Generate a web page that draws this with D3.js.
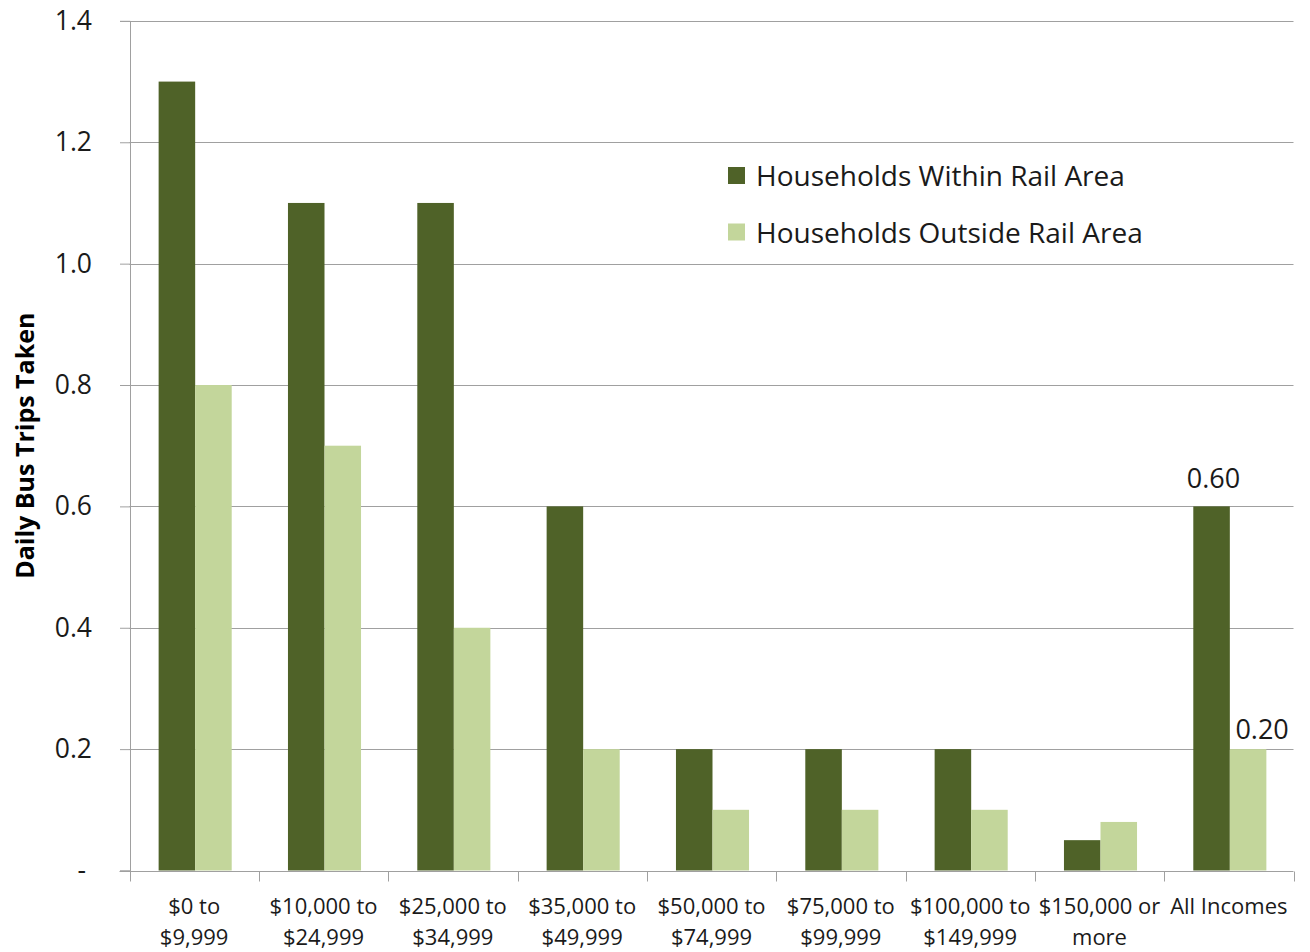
<!DOCTYPE html>
<html>
<head>
<meta charset="utf-8">
<script src="https://cdn.jsdelivr.net/npm/d3@7/dist/d3.min.js"></script>
<style>
  html, body { margin: 0; padding: 0; background: #fff; }
  svg { display: block; font-family: "Open Sans", Lato, sans-serif; }
</style>
</head>
<body>
<svg id="chart" width="1310" height="952"></svg>
<script>
// Income brackets (two-line labels)
const categories = [
  ["$0 to", "$9,999"],
  ["$10,000 to", "$24,999"],
  ["$25,000 to", "$34,999"],
  ["$35,000 to", "$49,999"],
  ["$50,000 to", "$74,999"],
  ["$75,000 to", "$99,999"],
  ["$100,000 to", "$149,999"],
  ["$150,000 or", "more"],
  ["All Incomes", ""]
];
const seriesNames = ["Households Within Rail Area", "Households Outside Rail Area"];
const withinRail  = [1.3, 1.1, 1.1, 0.6, 0.2, 0.2, 0.2, 0.05, 0.6];
const outsideRail = [0.8, 0.7, 0.4, 0.2, 0.1, 0.1, 0.1, 0.08, 0.2];
const yTicks = [0, 0.2, 0.4, 0.6, 0.8, 1.0, 1.2, 1.4];
const colors = ["#4f6228", "#c3d69b"];
const yTitle = "Daily Bus Trips Taken";

const svg = d3.select("#chart");
const plotLeft = 129.5, plotRight = 1293.5, plotTop = 20.9, plotBottom = 870.5;

const keys = categories.map(c => c.join(" "));
const x0 = d3.scaleBand().domain(keys).range([plotLeft, plotRight]).padding(0);
const bw = x0.bandwidth();
const groupW = bw * 0.565;
const x1 = d3.scaleBand().domain(seriesNames).range([0, groupW]).padding(0);
const groupOffset = (bw - groupW) / 2 + 1;
const y = d3.scaleLinear().domain([0, 1.4]).range([plotBottom, plotTop]);

const gridColor = "#a0a0a0";
const textColor = "#1a1a1a";

// Horizontal gridlines
svg.append("g")
  .selectAll("line")
  .data(yTicks.filter(d => d > 0))
  .join("line")
  .attr("x1", plotLeft).attr("x2", plotRight)
  .attr("y1", d => Math.round(y(d)) + 0.5).attr("y2", d => Math.round(y(d)) + 0.5)
  .attr("stroke", gridColor).attr("stroke-width", 1);

// Bars
const rows = keys.map((k, i) => ({ key: k, values: [withinRail[i], outsideRail[i]] }));
const groups = svg.append("g").selectAll("g")
  .data(rows).join("g")
  .attr("transform", d => `translate(${x0(d.key) + groupOffset},0)`);
groups.selectAll("rect")
  .data(d => d.values.map((v, j) => ({ name: seriesNames[j], v, j })))
  .join("rect")
  .attr("x", d => x1(d.name))
  .attr("width", x1.bandwidth())
  .attr("y", d => y(d.v))
  .attr("height", d => y(0) - y(d.v))
  .attr("fill", d => colors[d.j]);

// Y axis
const yAxis = d3.axisLeft(y)
  .tickValues(yTicks)
  .tickSize(10)
  .tickPadding(28)
  .tickFormat(d => d === 0 ? "-" : d3.format(".1f")(d));
const gy = svg.append("g")
  .attr("transform", `translate(${plotLeft + 0.5},0)`)
  .call(yAxis);
gy.select(".domain").attr("stroke", gridColor);
gy.selectAll(".tick line").attr("stroke", gridColor);
gy.selectAll(".tick text")
  .attr("font-size", 26.5).attr("fill", textColor)
  .attr("font-family", "'Open Sans', sans-serif")
  .attr("dx", d => d === 0 ? -6 : 0);

// X axis with ticks at category boundaries
const gx = svg.append("g").attr("transform", `translate(0,${Math.round(plotBottom) + 0.5})`);
gx.append("line")
  .attr("x1", plotLeft - 10).attr("x2", plotRight)
  .attr("stroke", gridColor);
const boundaries = keys.map(k => x0(k)).concat([plotRight]);
gx.selectAll("line.bt")
  .data(boundaries).join("line").attr("class", "bt")
  .attr("x1", d => Math.round(d) + 0.5).attr("x2", d => Math.round(d) + 0.5)
  .attr("y1", 0).attr("y2", 10)
  .attr("stroke", gridColor);
const labels = gx.selectAll("text.cat")
  .data(categories).join("text").attr("class", "cat")
  .attr("x", (d, i) => x0(keys[i]) + bw / 2)
  .attr("text-anchor", "middle")
  .attr("font-size", 22).attr("fill", textColor);
labels.append("tspan").attr("x", (d, i) => x0(keys[i]) + bw / 2).attr("y", 42).text(d => d[0]);
labels.append("tspan").attr("x", (d, i) => x0(keys[i]) + bw / 2).attr("y", 73).text(d => d[1]);

// Y axis title
svg.append("text")
  .attr("transform", `translate(34,${(plotTop + plotBottom) / 2}) rotate(-90)`)
  .attr("text-anchor", "middle")
  .attr("font-size", 25).attr("font-weight", "bold").attr("fill", "#000")
  .text(yTitle);

// Value labels on the "All Incomes" group
const last = keys.length - 1;
const lastX = x0(keys[last]) + groupOffset;
svg.append("text")
  .attr("x", lastX + x1(seriesNames[0]) + x1.bandwidth() / 2 + 2)
  .attr("y", y(withinRail[last]) - 18)
  .attr("text-anchor", "middle").attr("font-size", 27).attr("fill", textColor)
  .text(d3.format(".2f")(withinRail[last]));
svg.append("text")
  .attr("x", lastX + x1(seriesNames[1]) + x1.bandwidth() / 2 + 14)
  .attr("y", y(outsideRail[last]) - 10)
  .attr("text-anchor", "middle").attr("font-size", 27).attr("fill", textColor)
  .text(d3.format(".2f")(outsideRail[last]));

// Legend
const legend = svg.append("g").attr("transform", "translate(728,167)");
const li = legend.selectAll("g").data(seriesNames).join("g")
  .attr("transform", (d, i) => `translate(0,${i * 56.5})`);
li.append("rect").attr("width", 17).attr("height", 17).attr("fill", (d, i) => colors[i]);
li.append("text").attr("x", 28).attr("y", 19)
  .attr("font-size", 28).attr("fill", textColor).text(d => d);
</script>
</body>
</html>
